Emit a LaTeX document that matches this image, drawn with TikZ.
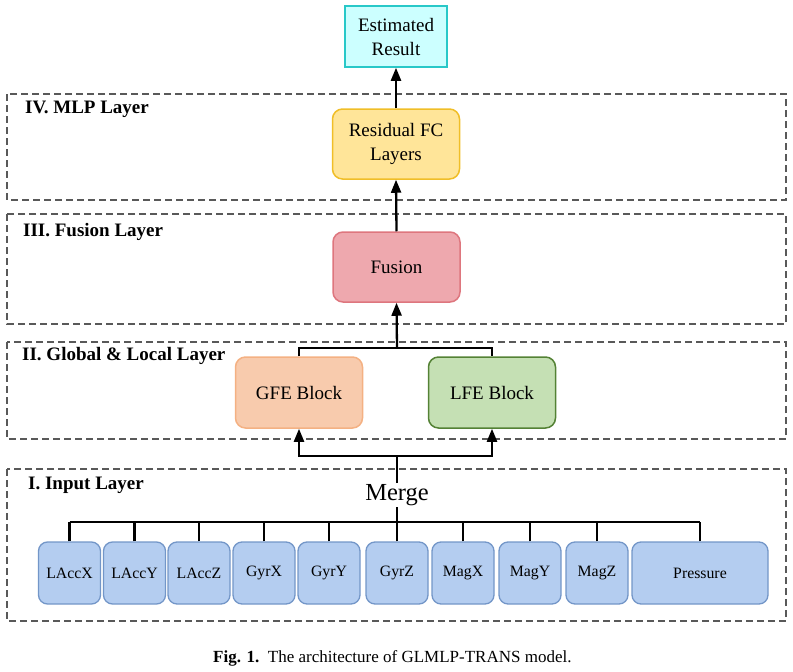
\documentclass[tikz,border=0pt]{standalone}
\usepackage{fontspec}
\setmainfont{Liberation Serif}
\usetikzlibrary{arrows.meta}
\definecolor{resfill}{RGB}{204,255,255}
\definecolor{resline}{RGB}{40,200,200}
\definecolor{fcfill}{RGB}{255,229,153}
\definecolor{fcline}{RGB}{240,190,40}
\definecolor{fusfill}{RGB}{238,168,174}
\definecolor{fusline}{RGB}{222,118,126}
\definecolor{gfefill}{RGB}{248,203,173}
\definecolor{gfeline}{RGB}{244,177,131}
\definecolor{lfefill}{RGB}{197,224,180}
\definecolor{lfeline}{RGB}{84,130,53}
\definecolor{infill}{RGB}{180,205,240}
\definecolor{inline}{RGB}{115,150,200}
\tikzset{
	layerframe/.style={draw=black!65, line width=1.2pt, dash pattern=on 7pt off 4pt},
	layerlabel/.style={anchor=west, inner sep=0pt, font=\fontsize{19}{21}\selectfont\bfseries},
	block/.style={rounded corners=10pt, line width=1.5pt, minimum width=127pt, minimum height=70pt, align=center, font=\fontsize{19}{24}\selectfont},
	inbox/.style={draw=inline, fill=infill, rounded corners=9pt, line width=1.3pt, minimum width=62pt, minimum height=62pt, font=\fontsize{15.8}{18}\selectfont},
	conn/.style={line width=2.3pt},
	arr/.style={line width=2.3pt, -{Triangle[length=13pt,width=10pt]}}
}
\begin{document}
\begin{tikzpicture}[x=1pt,y=-1pt]
	%%%%% START %%%%%
	\useasboundingbox (0,0) rectangle (793,672);
	
	% dashed layer frames
	\draw[layerframe] (7,94) rectangle (786,200);
	\node[layerlabel] (lblmlp) at (25,109) {IV. MLP Layer};
	\draw[layerframe] (7,214) rectangle (786,324);
	\node[layerlabel] (lblfus) at (23,232) {III. Fusion Layer};
	\draw[layerframe] (7,342) rectangle (786,439);
	\node[layerlabel] (lblgl) at (22,356) {II. Global \& Local Layer};
	\draw[layerframe] (7,469) rectangle (786,621);
	\node[layerlabel] (lblin) at (28,485) {I. Input Layer};
	
	% blocks
	\node[draw=resline, fill=resfill, line width=1.5pt, minimum width=102pt, minimum height=61pt, align=center, font=\fontsize{19}{24}\selectfont] (result) at (396,36.5) {Estimated\\Result};
	\node[block, draw=fcline, fill=fcfill] (fc) at (396,144) {Residual FC\\Layers};
	\node[block, draw=fusline, fill=fusfill] (fusion) at (396.5,267) {Fusion};
	\node[block, draw=gfeline, fill=gfefill, minimum height=71pt] (gfe) at (299,392.5) {GFE Block};
	\node[block, draw=lfeline, fill=lfefill, minimum height=71pt] (lfe) at (492,392.5) {LFE Block};
	\node[inner sep=1pt, font=\fontsize{24.5}{26}\selectfont] (merge) at (397,495) {Merge};
	
	% input channels
	\node[inbox] (laccx) at (69.5,573) {LAccX};
	\node[inbox] (laccy) at (134.5,573) {LAccY};
	\node[inbox] (laccz) at (199,573) {LAccZ};
	\node[inbox] (gyrx) at (264,573) {GyrX};
	\node[inbox] (gyry) at (329,573) {GyrY};
	\node[inbox] (gyrz) at (397,573) {GyrZ};
	\node[inbox] (magx) at (463,573) {MagX};
	\node[inbox] (magy) at (530,573) {MagY};
	\node[inbox] (magz) at (597,573) {MagZ};
	\node[inbox, minimum width=136pt] (pressure) at (700,573) {Pressure};
	
	% connectors
	\coordinate (bus) at (397,522);
	\coordinate (split) at (397,456);
	\coordinate (join) at (397,348);
	\draw[conn] (laccx.north |- bus) -- (pressure.north |- bus);
	\foreach \ch in {laccx,laccy,laccz,gyrx,gyry,magx,magy,magz,pressure}
		\draw[conn] (\ch.north) -- (\ch.north |- bus);
	\draw[conn] (gyrz.north) -- (merge.south);
	\draw[conn] (merge.north) -- (split);
	\draw[arr] (split) -| (gfe.south);
	\draw[arr] (split) -| (lfe.south);
	\draw[conn] (gfe.north) |- (join) -| (lfe.north);
	\draw[arr] (join) -- (fusion.south);
	\draw[arr] (fusion.north) -- (fc.south);
	\draw[arr] (fc.north) -- (result.south);
	
	% caption
	\node[anchor=west, inner sep=0pt, font=\fontsize{17}{18}\selectfont] (caption) at (213,658) {\textbf{Fig. 1.}\enspace The architecture of GLMLP-TRANS model.};
	%%%%% END %%%%%
\end{tikzpicture}
\end{document}
